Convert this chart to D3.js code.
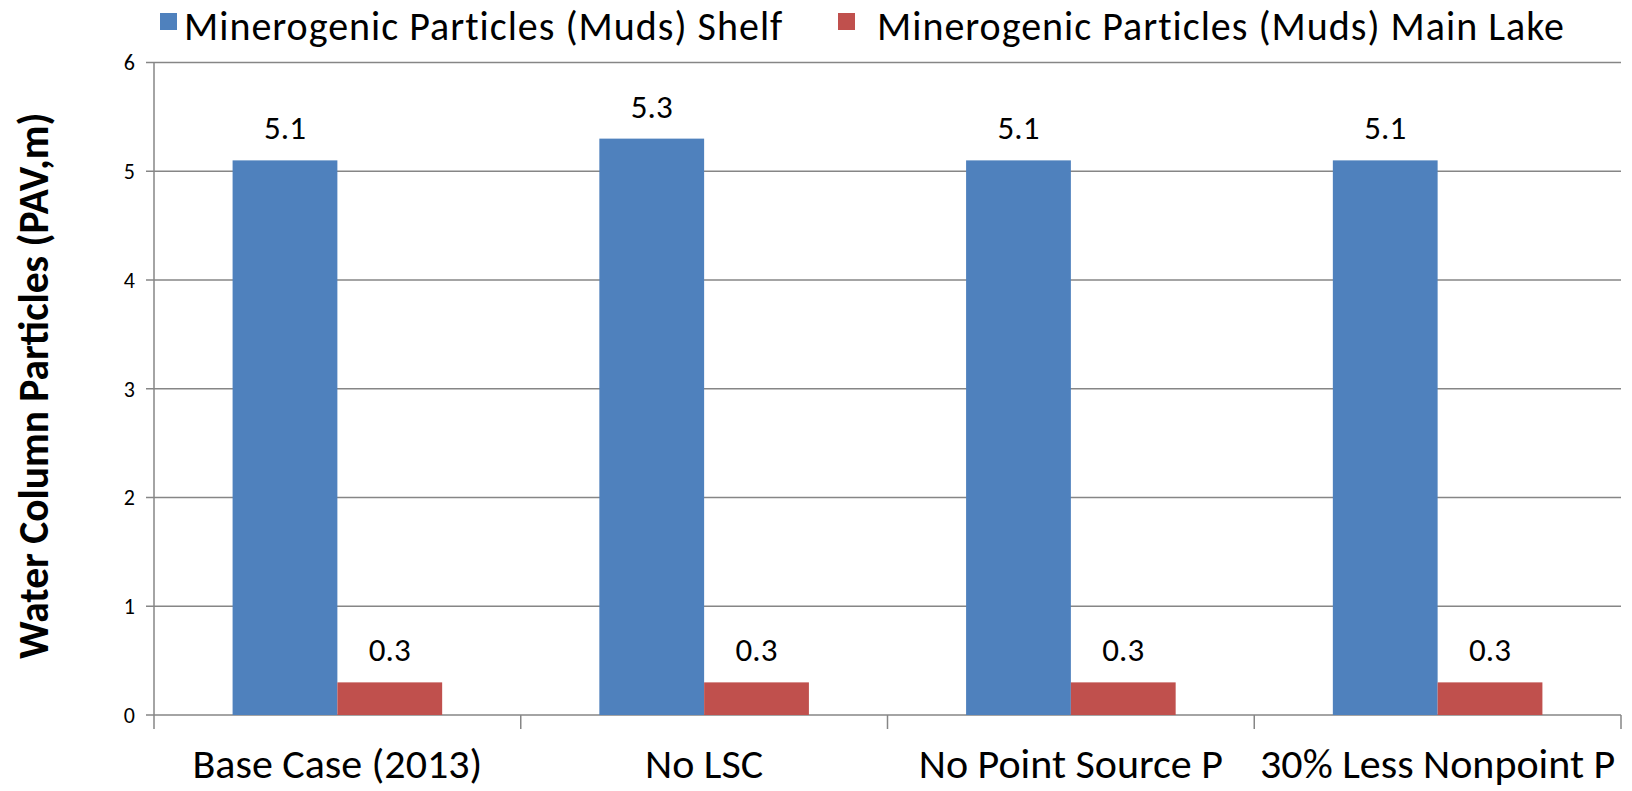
<!DOCTYPE html>
<html>
<head>
<meta charset="utf-8">
<script src="https://cdn.jsdelivr.net/npm/d3@7"></script>
<style>
  body { margin: 0; background: #fff; }
  text { font-family: Carlito, Lato, "Liberation Sans", sans-serif; fill: #000; }
</style>
</head>
<body>
<div id="chart"></div>
<script>
// chart values
const categories = ["Base Case (2013)", "No LSC", "No Point Source P", "30% Less Nonpoint P"];
const seriesNames = ["Minerogenic Particles (Muds) Shelf", "Minerogenic Particles (Muds) Main Lake"];
const shelfValues = [5.1, 5.3, 5.1, 5.1];
const mainLakeValues = [0.3, 0.3, 0.3, 0.3];
const yTicks = [0, 1, 2, 3, 4, 5, 6];
const yTitle = "Water Column Particles (PAV,m)";
const colors = ["#4f81bd", "#c0504d"];

const W = 1632, H = 791;
const margin = {top: 62.5, right: 11, bottom: 76, left: 154};
const width = W - margin.left - margin.right;
const height = H - margin.top - margin.bottom;

const svg = d3.select("#chart")
    .append("svg")
    .attr("width", W)
    .attr("height", H);

const g = svg.append("g")
    .attr("transform", "translate(" + margin.left + "," + margin.top + ")");

const x = d3.scaleBand()
    .domain(categories)
    .range([0, width]);

// gap width 150% -> each bar is band / 3.5
const barW = x.bandwidth() / 3.5;
const x1 = d3.scaleBand()
    .domain(seriesNames)
    .range([barW * 0.75, barW * 2.75]);

const y = d3.scaleLinear()
    .domain([0, 6])
    .range([height, 0]);

const gridColor = "#868686";

// gridlines + y ticks
g.selectAll(".grid")
    .data(yTicks)
    .enter()
    .append("line")
    .attr("x1", -8)
    .attr("x2", width)
    .attr("y1", d => y(d))
    .attr("y2", d => y(d))
    .style("stroke", gridColor)
    .style("stroke-width", 1.5);

g.selectAll(".ytick")
    .data(yTicks)
    .enter()
    .append("text")
    .attr("x", -19)
    .attr("y", d => y(d))
    .attr("dy", "0.36em")
    .attr("text-anchor", "end")
    .style("font-size", "22px")
    .text(d => d);

// y axis line
g.append("line")
    .attr("x1", 0).attr("x2", 0)
    .attr("y1", 0).attr("y2", height)
    .style("stroke", gridColor)
    .style("stroke-width", 1.5);

// x category ticks
const bounds = categories.map(c => x(c)).concat([width]);
g.selectAll(".xtick")
    .data(bounds)
    .enter()
    .append("line")
    .attr("x1", d => d).attr("x2", d => d)
    .attr("y1", height).attr("y2", height + 14)
    .style("stroke", gridColor)
    .style("stroke-width", 1.5);

// bars
const rows = categories.map((c, i) => ({cat: c, vals: [shelfValues[i], mainLakeValues[i]]}));

const groups = g.selectAll(".group")
    .data(rows)
    .enter()
    .append("g")
    .attr("transform", d => "translate(" + x(d.cat) + ",0)");

groups.selectAll("rect")
    .data(d => d.vals.map((v, j) => ({key: seriesNames[j], v: v, j: j})))
    .enter()
    .append("rect")
    .attr("x", d => x1(d.key))
    .attr("width", x1.bandwidth())
    .attr("y", d => y(d.v))
    .attr("height", d => height - y(d.v))
    .style("fill", d => colors[d.j]);

groups.selectAll(".lbl")
    .data(d => d.vals.map((v, j) => ({key: seriesNames[j], v: v})))
    .enter()
    .append("text")
    .attr("x", d => x1(d.key) + x1.bandwidth() / 2)
    .attr("y", d => y(d.v) - 21)
    .attr("text-anchor", "middle")
    .style("font-size", "33px")
    .text(d => d.v.toFixed(1));

// category labels
g.selectAll(".cat")
    .data(categories)
    .enter()
    .append("text")
    .attr("x", d => x(d) + x.bandwidth() / 2)
    .attr("y", height + 63)
    .attr("text-anchor", "middle")
    .style("font-size", "42px")
    .text(d => d);

// y title
svg.append("text")
    .attr("transform", "translate(48," + (margin.top + height / 2 - 3) + ") rotate(-90)")
    .attr("text-anchor", "middle")
    .style("font-size", "41.5px")
    .style("font-weight", "bold")
    .text(yTitle);

// legend
const legendSwatchX = [160, 838];
const legendTextX = [184, 877];
const legend = svg.selectAll(".legend")
    .data(seriesNames)
    .enter()
    .append("g");

legend.append("rect")
    .attr("x", (d, i) => legendSwatchX[i])
    .attr("y", 13)
    .attr("width", 17).attr("height", 17)
    .style("fill", (d, i) => colors[i]);

legend.append("text")
    .attr("x", (d, i) => legendTextX[i])
    .attr("y", 40)
    .style("font-size", "40px")
    .style("letter-spacing", "1px")
    .text(d => d);
</script>
</body>
</html>
